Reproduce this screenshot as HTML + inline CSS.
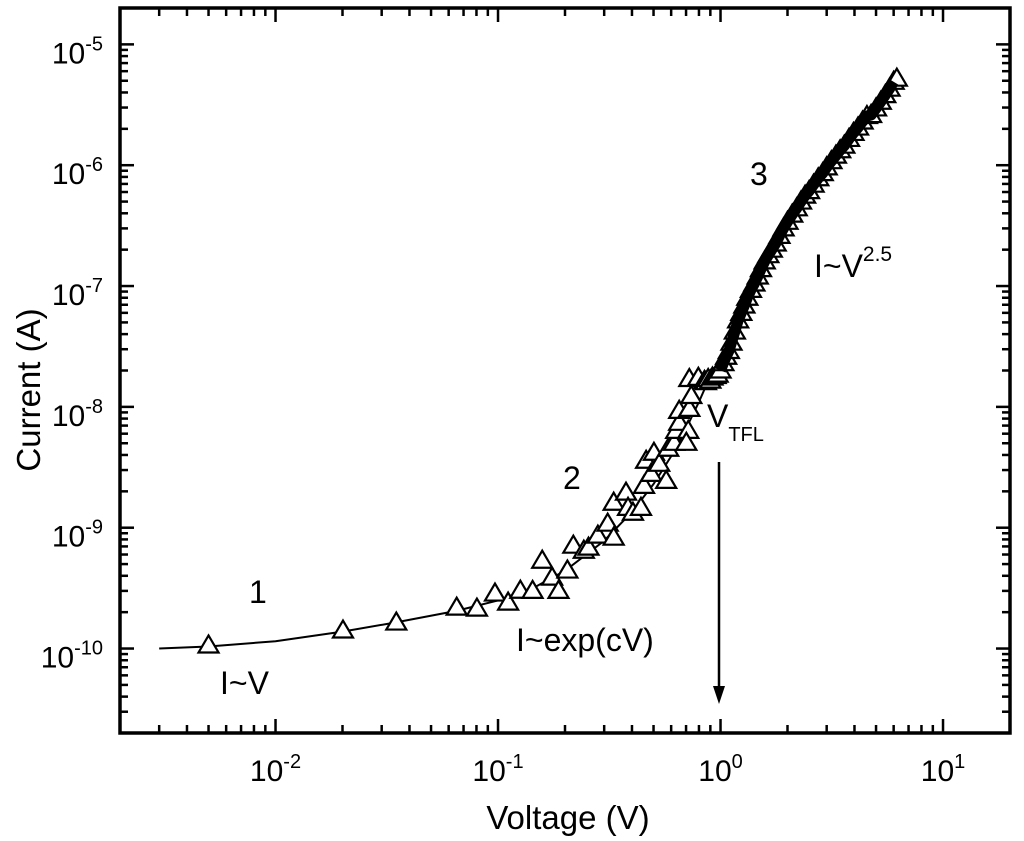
<!DOCTYPE html>
<html><head><meta charset="utf-8"><style>
html,body{margin:0;padding:0;background:#fff;}
svg{display:block;font-family:"Liberation Sans",Arial,sans-serif;}
</style></head><body>
<svg id="chart" width="1024" height="841" viewBox="0 0 1024 841"></svg>
<script>
// ---- data ----
const measV = [0.005,0.0201,0.0349,0.0652,0.0804,0.0969,0.111,0.126,0.143,0.158,0.175,0.187,0.205,0.218,0.243,0.255,0.281,0.311,0.331,0.331,0.376,0.384,0.404,0.439,0.453,0.463,0.488,0.502,0.530,0.570,0.582,0.619,0.632,0.652,0.716,0.702,0.652,0.724,0.739,0.724,0.795,0.847,
0.86,0.88,0.90,0.92,0.95,0.97,1.0,1.03,1.06,1.09,1.12,1.16,1.2,1.24,1.28,1.32,1.37,1.42,1.47,1.52,1.58,1.64,1.7,1.77,1.84,1.92,2.0,2.1,2.2,2.3,2.4,2.5,2.62,2.75,2.88,3.0,3.15,3.3,3.45,3.6,3.78,3.96,4.15,4.35,4.55,4.75,5.0,5.25,5.5,5.75,6.0,6.2];
const measI = [1.06e-10,1.41e-10,1.64e-10,2.18e-10,2.14e-10,2.85e-10,2.40e-10,3.01e-10,3.0e-10,5.33e-10,3.86e-10,3.0e-10,4.42e-10,7.1e-10,6.45e-10,6.84e-10,8.6e-10,1.08e-9,8.27e-10,1.61e-9,1.95e-9,1.46e-9,1.33e-9,1.46e-9,2.22e-9,3.58e-9,2.79e-9,4.17e-9,3.38e-9,2.44e-9,4.5e-9,5.04e-9,6.33e-9,7.38e-9,6.33e-9,5.04e-9,9.27e-9,9.62e-9,1.23e-8,1.70e-8,1.74e-8,1.64e-8,
1.6e-8,1.7e-8,1.65e-8,1.75e-8,1.8e-8,1.85e-8,2.0e-8,2.3e-8,2.6e-8,2.9e-8,3.4e-8,4.2e-8,5.2e-8,6.0e-8,6.9e-8,8.0e-8,9.3e-8,1.05e-7,1.2e-7,1.38e-7,1.6e-7,1.8e-7,2.0e-7,2.25e-7,2.6e-7,3.0e-7,3.4e-7,3.9e-7,4.4e-7,5.0e-7,5.6e-7,6.1e-7,6.9e-7,7.8e-7,8.6e-7,9.6e-7,1.08e-6,1.2e-6,1.33e-6,1.45e-6,1.65e-6,1.85e-6,2.05e-6,2.3e-6,2.55e-6,2.6e-6,2.95e-6,3.35e-6,3.8e-6,4.3e-6,4.9e-6,5.2e-6];
const fitV = [0.003,0.005,0.01,0.02,0.035,0.065,0.1,0.15,0.2,0.3,0.4,0.5,0.6,0.7,0.8,0.9];
const fitI = [1.0e-10,1.04e-10,1.15e-10,1.38e-10,1.65e-10,2.05e-10,2.5e-10,3.3e-10,4.4e-10,7.8e-10,1.35e-9,2.3e-9,3.9e-9,6.6e-9,1.1e-8,1.8e-8];
const xTickExp = [-2,-1,0,1];
const yTickExp = [-10,-9,-8,-7,-6,-5];

// ---- axes ----
const L=120,R=1010,T=8,B=733;
const xMin=Math.log10(2e-3),xMax=Math.log10(20),yMin=Math.log10(2e-11),yMax=Math.log10(2e-5);
const sx=v=>L+(Math.log10(v)-xMin)/(xMax-xMin)*(R-L);
const sy=v=>B-(Math.log10(v)-yMin)/(yMax-yMin)*(B-T);
const NS="http://www.w3.org/2000/svg";
const svg=document.getElementById('chart');
function mk(tag,attrs,parent){const e=document.createElementNS(NS,tag);for(const k in attrs)e.setAttribute(k,attrs[k]);(parent||svg).appendChild(e);return e;}

// ticks
const tg=mk('g',{stroke:'#000','stroke-width':2.5});


for(let e=-3;e<=1;e++)for(let m=1;m<=9;m++){const v=m*Math.pow(10,e);if(v<2e-3||v>20)continue;const x=sx(v);const len=m===1?14:8;
 mk('line',{x1:x,y1:B,x2:x,y2:B-len},tg);mk('line',{x1:x,y1:T,x2:x,y2:T+len},tg);}
for(let e=-11;e<=-5;e++)for(let m=1;m<=9;m++){const v=m*Math.pow(10,e);if(v<2e-11||v>2e-5)continue;const y=sy(v);const len=m===1?14:8;
 mk('line',{x1:L,y1:y,x2:L+len,y2:y},tg);mk('line',{x1:R,y1:y,x2:R-len,y2:y},tg);}
const frame=mk('rect',{x:L,y:T,width:R-L,height:B-T,fill:'none',stroke:'#000','stroke-width':3.5});



// tick labels
xTickExp.forEach(e=>{const t=mk('text',{x:sx(Math.pow(10,e)),y:781,'font-size':30,'text-anchor':'middle'});
 
 
 t.innerHTML='10<tspan dy="-13" font-size="20">'+e+'</tspan>';});
yTickExp.forEach(e=>{const t=mk('text',{x:103,y:sy(Math.pow(10,e))+19,'font-size':30,'text-anchor':'end'});
 
 
 t.innerHTML='10<tspan dy="-13" font-size="20">'+e+'</tspan>';});

// fit line
const fit=mk('polyline',{points:fitV.map((v,i)=>sx(v)+','+sy(fitI[i])).join(' '),fill:'none',stroke:'#000','stroke-width':2});



// markers
const mg=mk('g',{fill:'#fff',stroke:'#000','stroke-width':2.2});


measV.forEach((v,i)=>{const x=sx(v),y=sy(measI[i]);
 const p=mk('polygon',{points:(x)+','+(y-10)+' '+(x-10)+','+(y+7)+' '+(x+10)+','+(y+7)},mg);
 
 });
// dense overlap band for region 3 (drawn from the same data)
const bandPts=measV.map((v,i)=>[v,measI[i]]).filter(d=>d[0]>=1.0&&d[0]<=6.0).map(d=>sx(d[0])+','+sy(d[1])).join(' ');
const band=mk('polyline',{points:bandPts,fill:'none',stroke:'#000','stroke-width':11,'stroke-linejoin':'round'});


</script>
<svg width="1024" height="841" style="position:absolute;left:0;top:0" font-family="Liberation Sans, Arial, sans-serif">
 <text x="568" y="829" font-size="33" text-anchor="middle">Voltage (V)</text>
 <text transform="translate(40,390) rotate(-90)" font-size="33" text-anchor="middle">Current (A)</text>
 <text x="249" y="603" font-size="32">1</text>
 <text x="563" y="489" font-size="32">2</text>
 <text x="750" y="185" font-size="32">3</text>
 <text x="220" y="694" font-size="32">I~V</text>
 <text x="516" y="651" font-size="32">I~exp(cV)</text>
 <text x="814" y="277" font-size="32">I~V<tspan dy="-16" font-size="21">2.5</tspan></text>
 <text x="707" y="427" font-size="32">V<tspan dy="14" font-size="20">TFL</tspan></text>
 <g>
  <line x1="719" y1="462" x2="719" y2="690" stroke="#000" stroke-width="2.5"/>
  <polygon points="713,686 725,686 719,704" fill="#000"/>
 </g>
</svg>
</body></html>
